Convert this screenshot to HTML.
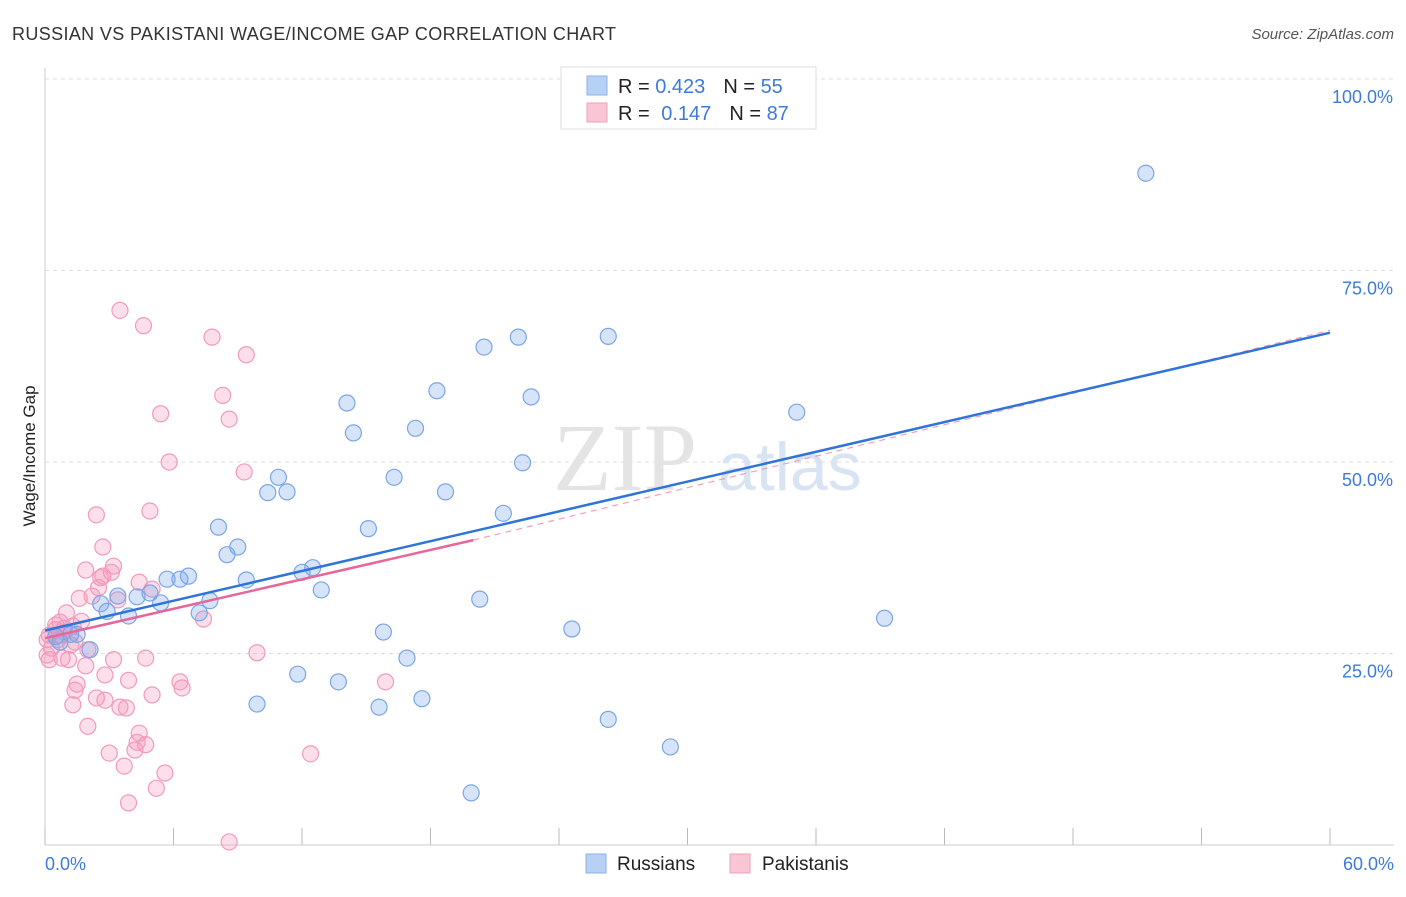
<!DOCTYPE html>
<html><head><meta charset="utf-8"><style>
body{margin:0;background:#fff;font-family:"Liberation Sans",sans-serif}
svg text{font-family:"Liberation Sans",sans-serif}
</style></head><body>
<svg id="chart" width="1406" height="892" xmlns="http://www.w3.org/2000/svg">
<text x="12" y="40" font-size="18" fill="#333" textLength="604">RUSSIAN VS PAKISTANI WAGE/INCOME GAP CORRELATION CHART</text>
<text x="1394" y="39" font-size="15" font-style="italic" fill="#555" text-anchor="end">Source: ZipAtlas.com</text>
<text x="35" y="456" font-size="17" fill="#222" text-anchor="middle" transform="rotate(-90 35 456)">Wage/Income Gap</text>
<g id="grid"></g>
<g id="ticks"></g>
<text x="553" y="490" font-size="96" fill="#e4e4e4" style="font-family:'Liberation Serif',serif">ZIP</text>
<text x="718" y="490" font-size="68" fill="#d8e4f4">atlas</text>
<g id="pts"></g>
<g id="lines"></g>
<g>
<rect x="561" y="67" width="255" height="62" fill="#fff" stroke="#ddd"/>
<rect x="587" y="76" width="20" height="19" fill="#b7d1f4" stroke="#8ab2ea"/>
<rect x="587" y="103" width="20" height="19" fill="#fac6d6" stroke="#f0a0ba"/>
<text x="618" y="93" font-size="20" fill="#222">R = <tspan fill="#3d7bd9">0.423</tspan><tspan dx="18">N = </tspan><tspan fill="#3d7bd9">55</tspan></text>
<text x="618" y="120" font-size="20" fill="#222">R = <tspan fill="#3d7bd9" dx="6">0.147</tspan><tspan dx="18">N = </tspan><tspan fill="#3d7bd9">87</tspan></text>
</g>
<g>
<rect x="586" y="854" width="20" height="19" fill="#b7d1f4" stroke="#8ab2ea"/>
<text x="617" y="870" font-size="19" fill="#222">Russians</text>
<rect x="730" y="854" width="20" height="19" fill="#fac6d6" stroke="#f0a0ba"/>
<text x="762" y="870" font-size="19" fill="#222">Pakistanis</text>
</g>
<text x="45" y="870" font-size="18" fill="#3d7bd9">0.0%</text>
<text x="1394" y="870" font-size="18" fill="#3d7bd9" text-anchor="end">60.0%</text>
</svg>
<script>
const yTicks=[25,50,75,100];
const yTickLabels=["25.0%","50.0%","75.0%","100.0%"];
const xTicks=[0,6,12,18,24,30,36,42,48,54,60];
const russiansX=[51.4,22.1,26.3,20.5,18.3,22.7,14.1,35.1,14.4,17.3,22.3,16.3,10.9,10.4,11.3,18.7,21.4,8.1,15.1,9.0,8.5,6.7,6.3,5.7,12.5,12.0,9.4,12.9,4.9,3.4,4.3,5.4,7.7,2.6,2.9,3.9,20.3,7.2,39.2,24.6,15.8,1.2,1.5,0.5,0.7,2.1,16.9,11.8,13.7,9.9,15.6,17.6,26.3,29.2,19.9];
const russiansY=[87.7,66.3,66.4,65.0,59.3,58.5,57.7,56.5,53.8,54.4,49.9,48.0,48.0,46.0,46.1,46.1,43.3,41.5,41.3,38.9,37.9,35.1,34.7,34.7,36.2,35.6,34.6,33.3,32.9,32.5,32.4,31.6,31.9,31.5,30.5,29.9,32.1,30.3,29.6,28.2,27.8,27.5,27.5,27.2,26.5,25.5,24.4,22.3,21.3,18.4,18.0,19.1,16.4,12.8,6.8];
const pakistanisX=[3.5,4.6,7.8,9.4,8.3,5.4,8.6,5.8,9.3,2.4,4.9,2.7,1.9,3.2,3.1,4.4,2.6,2.7,5.0,2.5,1.6,2.2,3.4,1.0,1.7,7.4,0.7,1.3,0.5,0.9,0.2,0.6,1.4,0.3,2.0,0.8,0.2,1.1,3.2,4.7,9.9,1.9,2.8,3.9,6.3,6.4,1.5,1.4,5.0,2.4,2.8,15.9,1.3,3.5,3.8,2.0,4.4,3.0,4.3,4.7,4.2,3.7,5.6,5.2,3.9,12.4,8.6,0.1,0.1,0.7,0.5,0.9,1.2];
const pakistanisY=[69.8,67.8,66.3,64.0,58.7,56.3,55.6,50.0,48.7,43.1,43.6,38.9,35.9,36.4,35.6,34.3,34.9,35.1,33.4,33.6,32.2,32.5,32.0,30.3,29.2,29.5,29.1,28.6,28.1,27.8,27.4,26.8,26.5,25.7,25.5,24.4,24.2,24.2,24.2,24.4,25.1,23.4,22.2,21.5,21.3,20.5,21.0,20.2,19.6,19.2,18.9,21.3,18.3,18.0,17.9,15.5,14.6,12.0,13.4,13.1,12.4,10.3,9.4,7.4,5.5,11.9,0.4,24.8,26.8,27.4,28.7,28.3,26.1];
const russiansTrend=[28.0,0.648];
const pakistanisTrend=[27.0,0.64];
const pakistanisDashEnd=67.2;
const pinkSolidEnd=20;
const NS="http://www.w3.org/2000/svg";
const X=v=>45+v*(1285/60), Y=v=>845-v*7.66;
function mk(tag,attrs,parent){const e=document.createElementNS(NS,tag);for(const k in attrs)e.setAttribute(k,attrs[k]);parent.appendChild(e);return e;}
const grid=document.getElementById('grid'),ticks=document.getElementById('ticks');
yTicks.forEach((t,i)=>{
 const l=mk('line',{x1:45,x2:1394,y1:Y(t),y2:Y(t),stroke:'#ddd','stroke-dasharray':'4 4'},grid);
 
 
 const tx=mk('text',{x:1393,y:Y(t)+24,'font-size':18,fill:'#3d7bd9','text-anchor':'end'},grid);
 tx.textContent=yTickLabels[i];
 
 
});
const ax=mk('line',{x1:45,x2:1394,y1:845,y2:845,stroke:'#ccc'},ticks);


const ay=mk('line',{x1:45,x2:45,y1:68,y2:845,stroke:'#ccc'},ticks);


xTicks.forEach(t=>{
 const l=mk('line',{x1:X(t),x2:X(t),y1:828,y2:845,stroke:'#bbb'},ticks);
 
 
});
const pts=document.getElementById('pts');
pakistanisX.forEach((x,i)=>{
 const c=mk('circle',{cx:X(x),cy:Y(pakistanisY[i]),r:8,fill:'rgba(244,150,185,0.3)',stroke:'#f29ab9','stroke-width':1.2},pts);
 
 
});
russiansX.forEach((x,i)=>{
 const c=mk('circle',{cx:X(x),cy:Y(russiansY[i]),r:8,fill:'rgba(120,165,235,0.3)',stroke:'#7aa6e6','stroke-width':1.2},pts);
 
 
});
const lines=document.getElementById('lines');
const pEnd=pakistanisTrend[0]+pakistanisTrend[1]*pinkSolidEnd;
const pd=mk('line',{x1:X(pinkSolidEnd),y1:Y(pEnd),x2:X(60),y2:Y(pakistanisDashEnd),stroke:'#f0a0ba','stroke-width':1.2,'stroke-dasharray':'6 5'},lines);


const bl=mk('line',{x1:X(0),y1:Y(russiansTrend[0]),x2:X(60),y2:Y(russiansTrend[0]+russiansTrend[1]*60),stroke:'#2f74d8','stroke-width':2.5},lines);


const pl=mk('line',{x1:X(0),y1:Y(pakistanisTrend[0]),x2:X(pinkSolidEnd),y2:Y(pEnd),stroke:'#e8669a','stroke-width':2.5},lines);


</script>
</body></html>
